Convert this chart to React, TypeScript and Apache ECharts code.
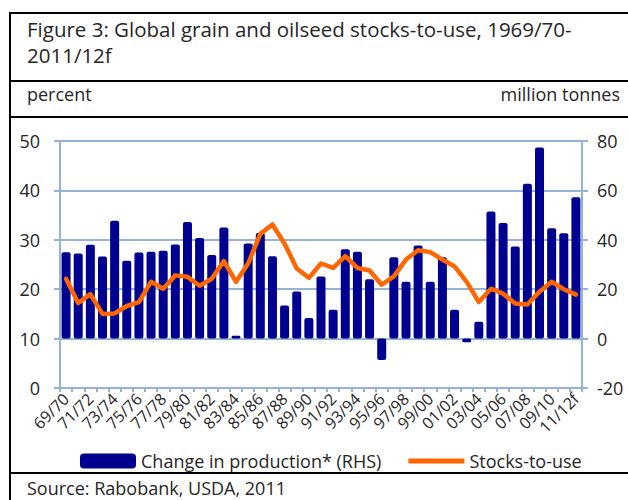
import React, { useEffect, useRef } from "react";
import * as echarts from "echarts";

const categories: string[] = [
  "69/70", "70/71", "71/72", "72/73", "73/74", "74/75", "75/76", "76/77", "77/78", "78/79",
  "79/80", "80/81", "81/82", "82/83", "83/84", "84/85", "85/86", "86/87", "87/88", "88/89",
  "89/90", "90/91", "91/92", "92/93", "93/94", "94/95", "95/96", "96/97", "97/98", "98/99",
  "99/00", "00/01", "01/02", "02/03", "03/04", "04/05", "05/06", "06/07", "07/08", "08/09",
  "09/10", "10/11", "11/12f",
];

// Change in production, million tonnes (RHS)
const productionChange: number[] = [
  35, 34.5, 38, 33.2, 47.7, 31.5, 34.9, 35.2, 35.6, 38.1,
  47.2, 40.7, 33.8, 45, 1.2, 38.5, 42.8, 33.3, 13.4, 19.1,
  8.3, 25.1, 11.7, 36.2, 35.2, 24, -8.7, 32.9, 23, 37.7,
  23, 32.9, 11.7, -1.5, 6.8, 51.5, 46.8, 37.3, 62.7, 77.4,
  44.7, 42.7, 57.2,
];

// Stocks-to-use, percent (LHS)
const stocksToUse: number[] = [
  22.1, 17.2, 19.0, 15.0, 15.1, 16.6, 17.4, 21.5, 20.1, 22.8,
  22.5, 20.7, 22.1, 25.7, 21.5, 25.2, 31.2, 33.1, 29.2, 24.2,
  22.3, 25.2, 24.3, 26.7, 24.3, 23.8, 20.9, 22.6, 26.0, 27.9,
  27.5, 26.0, 24.6, 21.5, 17.4, 20.1, 19.1, 17.1, 16.9, 19.5,
  21.5, 20.0, 18.9,
];

const seriesNames = ["Change in production* (RHS)", "Stocks-to-use"];
const titleLines = ["Figure 3: Global grain and oilseed stocks-to-use, 1969/70-", "2011/12f"];
const leftUnit = "percent";
const rightUnit = "million tonnes";
const sourceText = "Source: Rabobank, USDA, 2011";

const FONT = "'Open Sans', 'Noto Sans', sans-serif";
const TEXT = "#262626";
const AXIS = "#95B3D7";
// thin horizontal line icon inside a 56x15 box (tiny corner dots keep the box size)
const LINE_ICON =
  "path://M0,5 L56,5 L56,10 L0,10 Z M0,0 L0.01,0 L0.01,0.01 L0,0.01 Z M55.99,14.99 L56,14.99 L56,15 L55.99,15 Z";

export default function App() {
  const ref = useRef<HTMLDivElement>(null);
  useEffect(() => {
    document.body.style.margin = "0";
    if (!ref.current) return;
    const chart = echarts.init(ref.current, null, { renderer: "svg" });
    const hline = (y: number) => ({
      type: "line",
      shape: { x1: 10, y1: y, x2: 628, y2: y },
      style: { stroke: "#000", lineWidth: 2 },
      silent: true,
    });
    const txt = (x: number, y: number, text: string, size: number, align = "left") => ({
      type: "text",
      x,
      y,
      style: {
        text,
        fill: TEXT,
        font: `${size}px ${FONT}`,
        align,
        verticalAlign: "middle",
      },
      silent: true,
    });
    chart.setOption({
      animation: false,
      backgroundColor: "#fff",
      textStyle: { fontFamily: FONT },
      grid: { left: 60, right: 46, top: 141, bottom: 112, containLabel: false },
      legend: {
        left: 75,
        top: 447,
        itemWidth: 56,
        itemHeight: 15,
        itemGap: 27,
        textStyle: { fontSize: 18, color: TEXT, fontFamily: FONT },
        data: [
          { name: seriesNames[0], icon: "roundRect" },
          { name: seriesNames[1], icon: LINE_ICON },
        ],
      },
      xAxis: {
        type: "category",
        data: categories,
        boundaryGap: true,
        axisLine: { show: true, lineStyle: { color: AXIS, width: 2 } },
        axisTick: { show: true, interval: 0, length: 4, lineStyle: { color: AXIS, width: 2 } },
        axisLabel: {
          interval: 1,
          rotate: 45,
          fontSize: 16,
          color: TEXT,
          fontFamily: FONT,
          margin: 8,
        },
        splitLine: { show: false },
      },
      yAxis: [
        {
          type: "value",
          min: 0,
          max: 50,
          interval: 10,
          position: "left",
          axisLine: { show: true, lineStyle: { color: AXIS, width: 2 } },
          axisTick: { show: true, length: 6, lineStyle: { color: AXIS, width: 2 } },
          axisLabel: { fontSize: 18, color: TEXT, fontFamily: FONT, margin: 20 },
          splitLine: { show: true, lineStyle: { color: AXIS, width: 2 } },
        },
        {
          type: "value",
          min: -20,
          max: 80,
          interval: 20,
          position: "right",
          axisLine: { show: true, lineStyle: { color: AXIS, width: 2 } },
          axisTick: { show: true, length: 6, lineStyle: { color: AXIS, width: 2 } },
          axisLabel: { fontSize: 18, color: TEXT, fontFamily: FONT, margin: 15 },
          splitLine: { show: false },
        },
      ],
      series: [
        {
          name: seriesNames[0],
          type: "bar",
          yAxisIndex: 1,
          data: productionChange,
          barWidth: 9,
          itemStyle: { color: "#000090", borderRadius: 2 },
        },
        {
          name: seriesNames[1],
          type: "line",
          yAxisIndex: 0,
          data: stocksToUse,
          symbol: "none",
          lineStyle: { color: "#FF6600", width: 4.5, cap: "round", join: "round" },
          itemStyle: { color: "#FF6600" },
        },
      ],
      graphic: [
        {
          type: "line",
          shape: { x1: 10, y1: 12, x2: 10, y2: 500 },
          style: { stroke: "#000", lineWidth: 2 },
          silent: true,
        },
        hline(13),
        hline(81),
        hline(117),
        hline(473),
        txt(27, 29, titleLines[0], 20.5),
        txt(27, 54.5, titleLines[1], 20.5),
        txt(27, 94, leftUnit, 18),
        txt(620, 94, rightUnit, 18, "right"),
        txt(27, 488, sourceText, 18),
      ],
    });
    return () => chart.dispose();
  }, []);
  return (
    <div
      ref={ref}
      style={{ position: "absolute", left: 0, top: 0, width: 628, height: 500 }}
    />
  );
}
